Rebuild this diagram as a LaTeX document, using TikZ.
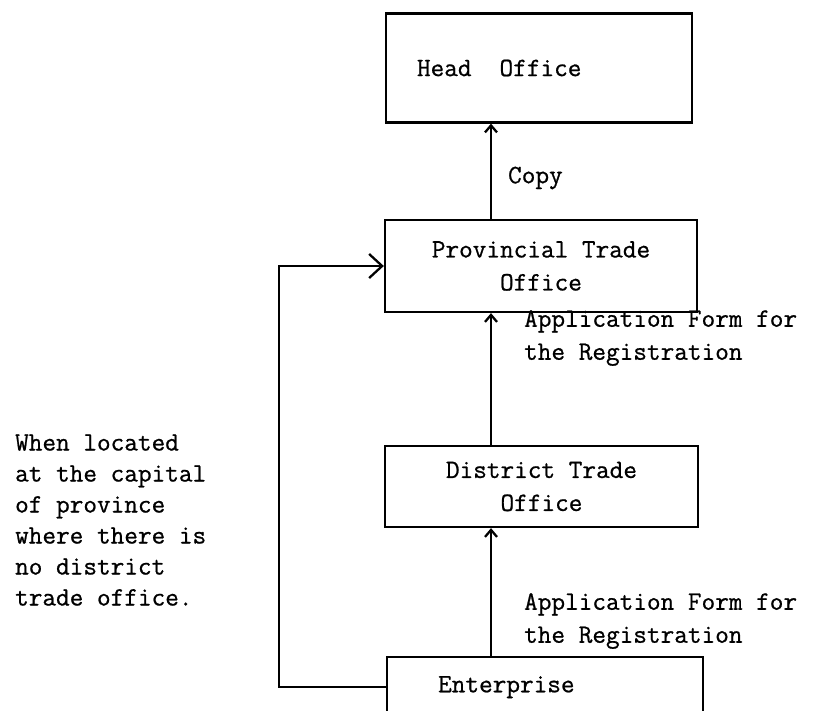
\documentclass[tikz,border=0pt]{standalone}
\usepackage{fontspec}
\setmonofont{Latin Modern Mono}[FakeBold=0.8]
\usetikzlibrary{arrows.meta,positioning}

\begin{document}
\begin{tikzpicture}[x=1pt,y=-1pt,line width=2.3pt,
    >={Straight Barb[length=7pt,width=12pt]},
    font=\ttfamily\fontsize{26.5}{33}\selectfont]
  \tikzstyle{office}=[draw,inner sep=0pt,align=center]
  \tikzstyle{note}=[inner sep=0pt,align=left,anchor=west]
  \tikzstyle{bigtip}=[-{Straight Barb[length=13pt,width=24pt]}]

  \useasboundingbox (0,0) rectangle (827,710);
  \clip (0,0) rectangle (827,710);

  % Offices
  \node[office,minimum width=306pt,minimum height=109pt,text width=244pt,
        inner xsep=31pt,align=left] (head) at (539,68) {Head\hspace*{28pt}Office};
  \node[office,minimum width=312pt,minimum height=92pt] (prov) at (541,266)
        {Provincial Trade\\Office};
  \node[office,minimum width=313pt,minimum height=81pt] (district) at (541.5,486.5)
        {District Trade\\Office};
  \node[office,minimum width=316pt,minimum height=60pt,text width=214pt,
        inner xsep=51pt,align=left,anchor=north west] (enterprise) at (386,656)
        {Enterprise};

  % Labels
  \node[note] (copy) at (507,178) {Copy};
  \node[note] (form-1) at (523,338) {Application Form for\\the Registration};
  \node[note] (form-2) at (523,621) {Application Form for\\the Registration};
  \node[note,font=\ttfamily\fontsize{26.5}{31}\selectfont] (capital) at (14,520)
        {When located\\at the capital\\of province\\where there is\\no district\\trade office.};

  % Connections
  \coordinate (spine) at (491,0);
  \coordinate (bend) at (279,266);
  \draw[->] (prov.north -| spine) -- (head.south -| spine);
  \draw[->] (district.north -| spine) -- (prov.south -| spine);
  \draw[->] (enterprise.north -| spine) -- (district.south -| spine);
  \draw[bigtip] (enterprise.west) -| (bend) -- (prov.west);
\end{tikzpicture}
\end{document}
